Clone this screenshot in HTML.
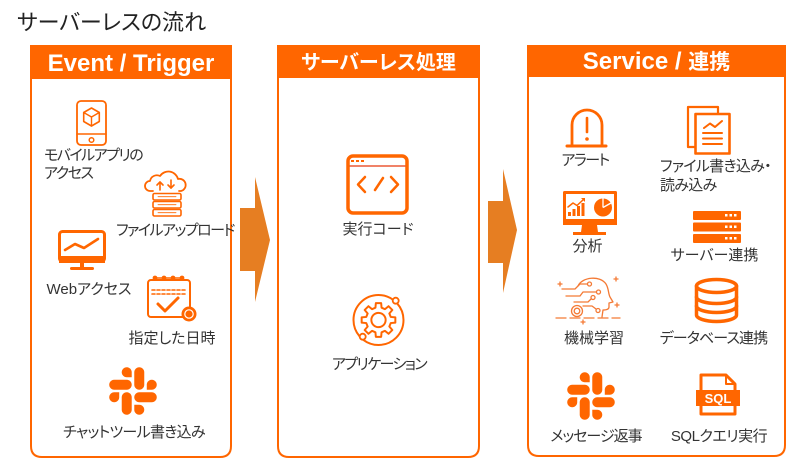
<!DOCTYPE html>
<html><head><meta charset="utf-8">
<style>
body{margin:0;width:800px;height:470px;background:#fff;position:relative;overflow:hidden;font-family:"Liberation Sans","Noto Sans CJK JP",sans-serif;}
svg{position:absolute;left:0;top:0}
.t{position:absolute;white-space:nowrap;font-size:15px;line-height:20px;color:#333;font-feature-settings:"palt" 1;}
.c{transform:translateX(-50%)}
.h{position:absolute;color:#fff;font-weight:bold;white-space:nowrap;transform:translateX(-50%);line-height:30px}
</style></head><body>
<svg width="800" height="470" viewBox="0 0 800 470" xmlns="http://www.w3.org/2000/svg">
  <!-- panels -->
  <g fill="none" stroke="#FF6600" stroke-width="2">
    <path d="M31,46 H231 V446 Q231,457 220,457 H42 Q31,457 31,446 Z"/>
    <path d="M278,46 H479 V446 Q479,457 468,457 H289 Q278,457 278,446 Z"/>
    <path d="M528,46 H785 V445 Q785,456 774,456 H539 Q528,456 528,445 Z"/>
  </g>
  <rect x="30" y="45" width="202" height="34" fill="#FF6600"/>
  <rect x="277" y="45" width="203" height="33" fill="#FF6600"/>
  <rect x="527" y="45" width="259" height="32" fill="#FF6600"/>

  <!-- big arrows -->
  <polygon points="240,208 255,208 255,177 270,240 255,302 255,271 240,271" fill="#E67E22"/>
  <polygon points="488,201 503,201 503,169 517,230 503,293 503,263 488,263" fill="#E67E22"/>

  <g fill="none" stroke="#FF6600" stroke-linecap="round" stroke-linejoin="round">
    <!-- phone -->
    <rect x="77" y="101" width="29" height="44" rx="4" stroke-width="1.8"/>
    <line x1="77" y1="134" x2="106" y2="134" stroke-width="1.6"/>
    <circle cx="91.5" cy="140" r="2.3" stroke-width="1.5"/>
    <polygon points="91.5,108 99.3,112.5 99.3,121.5 91.5,126 83.7,121.5 83.7,112.5" stroke-width="1.6"/>
    <polyline points="83.7,112.5 91.5,117 99.3,112.5" stroke-width="1.4"/>
    <line x1="91.5" y1="117" x2="91.5" y2="126" stroke-width="1.4"/>

    <!-- cloud upload -->
    <path d="M153,191 H150 A5,5 0 0 1 150,181 A7,7 0 0 1 160,176 A10,10 0 0 1 178,179 A6,6 0 0 1 181,191 H179" stroke-width="1.8"/>
    <line x1="160" y1="190" x2="160" y2="182" stroke-width="1.6"/>
    <polyline points="157,185 160,182 163,185" stroke-width="1.6"/>
    <line x1="171" y1="180" x2="171" y2="188" stroke-width="1.6"/>
    <polyline points="168,185 171,188 174,185" stroke-width="1.6"/>
    <rect x="153" y="193.5" width="28" height="6.5" rx="1.5" stroke-width="1.6"/>
    <rect x="153" y="201.5" width="28" height="6.5" rx="1.5" stroke-width="1.6"/>
    <rect x="153" y="209.5" width="28" height="6.5" rx="1.5" stroke-width="1.6"/>
    <line x1="158" y1="196.7" x2="176" y2="196.7" stroke-width="0.8"/>
    <line x1="158" y1="204.7" x2="176" y2="204.7" stroke-width="0.8"/>
    <line x1="158" y1="212.7" x2="176" y2="212.7" stroke-width="0.8"/>

    <!-- web monitor -->
    <rect x="59.5" y="231.5" width="45" height="30" rx="3" stroke-width="3"/>
    <polyline points="65,250 75,244 84,248 98,239" stroke-width="2.6"/>

    <!-- calendar -->
    <rect x="148" y="280" width="42" height="37" rx="3" stroke-width="2"/>
    <line x1="155" y1="278" x2="182" y2="278" stroke-width="1.5"/>
    <line x1="152" y1="290" x2="186" y2="290" stroke-width="1.6" stroke-dasharray="3,2"/>
    <line x1="152" y1="294" x2="186" y2="294" stroke-width="1.6" stroke-dasharray="3,2"/>
    <polyline points="158,304 165,311 178,298" stroke-width="3"/>

    <!-- code window -->
    <rect x="348" y="156" width="59" height="57" rx="5" stroke-width="3.5"/>
    <line x1="350" y1="166" x2="405" y2="166" stroke="#E8380D" stroke-width="1.2"/>
    <polyline points="365,177 358,184.5 365,192" stroke-width="2.5"/>
    <line x1="375" y1="190" x2="383" y2="178" stroke-width="2.5"/>
    <polyline points="391,177 398,184.5 391,192" stroke-width="2.5"/>

    <!-- gear / application -->
    <circle cx="378.5" cy="320" r="25" stroke-width="2" stroke-dasharray="55.4,5.2,72.9,5.2,18.3"/>
    <g transform="translate(378.5,320) scale(1.1)" stroke-width="1.8">
      <polygon points="11.16,-2.78 15.31,-2.42 15.31,2.42 11.16,2.78 9.86,5.92 12.54,9.11 9.11,12.54 5.92,9.86 2.78,11.16 2.42,15.31 -2.42,15.31 -2.78,11.16 -5.92,9.86 -9.11,12.54 -12.54,9.11 -9.86,5.92 -11.16,2.78 -15.31,2.42 -15.31,-2.42 -11.16,-2.78 -9.86,-5.92 -12.54,-9.11 -9.11,-12.54 -5.92,-9.86 -2.78,-11.16 -2.42,-15.31 2.42,-15.31 2.78,-11.16 5.92,-9.86 9.11,-12.54 12.54,-9.11 9.86,-5.92"/>
      <circle cx="0" cy="0" r="6.5"/>
    </g>
    <circle cx="395.7" cy="300.7" r="3" fill="#fff" stroke-width="1.8"/>
    <circle cx="362.7" cy="336.7" r="3" fill="#fff" stroke-width="1.8"/>

    <!-- alert -->
    <path d="M572,145 V125 A15,15 0 0 1 602,125 V145" stroke-width="2.8"/>
    <line x1="567" y1="146" x2="606" y2="146" stroke-width="3"/>
    <line x1="587" y1="118" x2="587" y2="132" stroke-width="2.6"/>

    <!-- files -->
    <rect x="688" y="107" width="30" height="40" stroke-width="2.2"/>
    <rect x="695.5" y="114" width="34" height="39.5" fill="#fff" stroke-width="2.6"/>
    <polyline points="704,128 710,123.5 715,127 722,121" stroke-width="2"/>
    <line x1="703" y1="133" x2="722" y2="133" stroke-width="2"/>
    <line x1="703" y1="138.5" x2="722" y2="138.5" stroke-width="2"/>
    <line x1="703" y1="144" x2="722" y2="144" stroke-width="2"/>

    <!-- analysis monitor -->
    <rect x="564.5" y="192.5" width="51" height="30" stroke-width="3"/>
    <polyline points="568,207 573,203 577,205.5 584,199" stroke-width="1.5"/>

    <!-- database -->
    <ellipse cx="716.5" cy="286" rx="20" ry="6.5" stroke-width="3.5"/>
    <path d="M696.5,286 V315 A20,6.5 0 0 0 736.5,315 V286" stroke-width="3.5"/>
    <path d="M696.5,297 A20,6.5 0 0 0 736.5,297" stroke-width="3.5"/>
    <path d="M696.5,306 A20,6.5 0 0 0 736.5,306" stroke-width="3.5"/>

    <!-- sql file -->
    <path d="M701,375 H726 L735,384 V414 H701 Z" stroke-width="3"/>
    <path d="M726,375 V384 H735" stroke-width="2"/>
  </g>

  <!-- filled details -->
  <g fill="#FF6600">
    <rect x="59" y="256" width="46" height="7"/>
    <rect x="80" y="262" width="4" height="6"/>
    <rect x="70" y="267" width="24" height="3" rx="1.5"/>
    <circle cx="155" cy="278" r="2.4"/><circle cx="164" cy="278" r="2.4"/><circle cx="173" cy="278" r="2.4"/><circle cx="182" cy="278" r="2.4"/>
    <circle cx="189" cy="314" r="7.5"/>
    <rect x="351" y="160" width="3" height="2"/><rect x="356" y="160" width="3" height="2"/><rect x="361" y="160" width="3" height="2"/>
    <circle cx="587" cy="139" r="1.8"/>
    <rect x="563" y="219" width="54" height="6"/>
    <polygon points="582,225 597,225 598,232 581,232"/>
    <rect x="573" y="232" width="33" height="3"/>
    <rect x="568" y="212" width="3" height="4"/><rect x="572.5" y="209" width="3" height="7"/><rect x="577" y="206" width="3" height="10"/><rect x="581.5" y="203" width="3" height="13"/>
    <polygon points="581,198 585,198 585,202"/>
    <circle cx="603" cy="207.5" r="9"/>
    <rect x="693" y="211" width="48" height="9" rx="1"/>
    <rect x="693" y="222.5" width="48" height="9" rx="1"/>
    <rect x="693" y="234" width="48" height="9" rx="1"/>
    <rect x="696" y="390" width="44" height="16"/>
  </g>
  <g fill="#fff">
    <circle cx="189" cy="314" r="4.2" fill="none" stroke="#fff" stroke-width="1.2"/>
    <line x1="603" y1="207.5" x2="603" y2="198" stroke="#fff" stroke-width="1.3"/>
    <line x1="603" y1="207.5" x2="611" y2="203" stroke="#fff" stroke-width="1.3"/>
    <rect x="725" y="214" width="2.5" height="2.5"/><rect x="729.5" y="214" width="2.5" height="2.5"/><rect x="734" y="214" width="2.5" height="2.5"/>
    <rect x="725" y="225.5" width="2.5" height="2.5"/><rect x="729.5" y="225.5" width="2.5" height="2.5"/><rect x="734" y="225.5" width="2.5" height="2.5"/>
    <rect x="725" y="237" width="2.5" height="2.5"/><rect x="729.5" y="237" width="2.5" height="2.5"/><rect x="734" y="237" width="2.5" height="2.5"/>
  </g>
  <text x="718" y="403" text-anchor="middle" font-family="Liberation Sans, sans-serif" font-weight="bold" font-size="13" fill="#fff">SQL</text>

  <!-- machine learning head -->
  <g fill="none" stroke="#F47A35" stroke-width="1.3" stroke-linecap="round" stroke-linejoin="round">
    <path d="M578,286 C582,277 600,275 606,284 C609,289 608,293 610,297 L613,302 L609,303 L609,307 C609,309 607,310 603,310 L602,317"/>
    <polyline points="562,289 575,289 580,284 587,284"/><circle cx="589.5" cy="284" r="2"/>
    <polyline points="566,296 580,296 583,292 596,292"/><circle cx="598.5" cy="292" r="2"/>
    <polyline points="574,302 588,302 591,299"/><circle cx="593" cy="297.5" r="2"/>
    <polyline points="583,306 592,306 596,309"/><circle cx="598" cy="310.5" r="2"/>
    <circle cx="577" cy="311" r="5.5"/><circle cx="577" cy="311" r="2.8"/>
    <line x1="556" y1="318" x2="620" y2="318" stroke-dasharray="10,4"/>
    <path d="M558,284 h4 M560,282 v4 M614,279 h4 M616,277 v4 M615,305 h4 M617,303 v4 M581,322 h4 M583,320 v4"/>
  </g>

  <!-- slack icons -->
  <g fill="#FF6600" transform="translate(109,367) scale(0.387)">
    <path d="M26.4 78.2c0 7.1-5.8 12.9-12.9 12.9S.6 85.3.6 78.2c0-7.1 5.8-12.9 12.9-12.9h12.9v12.9z"/>
    <path d="M32.9 78.2c0-7.1 5.8-12.9 12.9-12.9s12.9 5.8 12.9 12.9v32.3c0 7.1-5.8 12.9-12.9 12.9s-12.9-5.8-12.9-12.9V78.2z"/>
    <path d="M45.8 26.4c-7.1 0-12.9-5.8-12.9-12.9S38.7.6 45.8.6s12.9 5.8 12.9 12.9v12.9H45.8z"/>
    <path d="M45.8 32.9c7.1 0 12.9 5.8 12.9 12.9s-5.8 12.9-12.9 12.9H13.5C6.4 58.7.6 52.9.6 45.8s5.8-12.9 12.9-12.9h32.3z"/>
    <path d="M97.6 45.8c0-7.1 5.8-12.9 12.9-12.9 7.1 0 12.9 5.8 12.9 12.9s-5.8 12.9-12.9 12.9H97.6V45.8z"/>
    <path d="M91.1 45.8c0 7.1-5.8 12.9-12.9 12.9-7.1 0-12.9-5.8-12.9-12.9V13.5C65.3 6.4 71.1.6 78.2.6c7.1 0 12.9 5.8 12.9 12.9v32.3z"/>
    <path d="M78.2 97.6c7.1 0 12.9 5.8 12.9 12.9 0 7.1-5.8 12.9-12.9 12.9-7.1 0-12.9-5.8-12.9-12.9V97.6h12.9z"/>
    <path d="M78.2 91.1c-7.1 0-12.9-5.8-12.9-12.9 0-7.1 5.8-12.9 12.9-12.9h32.3c7.1 0 12.9 5.8 12.9 12.9 0 7.1-5.8 12.9-12.9 12.9H78.2z"/>
  </g>
  <g fill="#FF6600" transform="translate(567,372) scale(0.387)">
    <path d="M26.4 78.2c0 7.1-5.8 12.9-12.9 12.9S.6 85.3.6 78.2c0-7.1 5.8-12.9 12.9-12.9h12.9v12.9z"/>
    <path d="M32.9 78.2c0-7.1 5.8-12.9 12.9-12.9s12.9 5.8 12.9 12.9v32.3c0 7.1-5.8 12.9-12.9 12.9s-12.9-5.8-12.9-12.9V78.2z"/>
    <path d="M45.8 26.4c-7.1 0-12.9-5.8-12.9-12.9S38.7.6 45.8.6s12.9 5.8 12.9 12.9v12.9H45.8z"/>
    <path d="M45.8 32.9c7.1 0 12.9 5.8 12.9 12.9s-5.8 12.9-12.9 12.9H13.5C6.4 58.7.6 52.9.6 45.8s5.8-12.9 12.9-12.9h32.3z"/>
    <path d="M97.6 45.8c0-7.1 5.8-12.9 12.9-12.9 7.1 0 12.9 5.8 12.9 12.9s-5.8 12.9-12.9 12.9H97.6V45.8z"/>
    <path d="M91.1 45.8c0 7.1-5.8 12.9-12.9 12.9-7.1 0-12.9-5.8-12.9-12.9V13.5C65.3 6.4 71.1.6 78.2.6c7.1 0 12.9 5.8 12.9 12.9v32.3z"/>
    <path d="M78.2 97.6c7.1 0 12.9 5.8 12.9 12.9 0 7.1-5.8 12.9-12.9 12.9-7.1 0-12.9-5.8-12.9-12.9V97.6h12.9z"/>
    <path d="M78.2 91.1c-7.1 0-12.9-5.8-12.9-12.9 0-7.1 5.8-12.9 12.9-12.9h32.3c7.1 0 12.9 5.8 12.9 12.9 0 7.1-5.8 12.9-12.9 12.9H78.2z"/>
  </g>
</svg>

<!-- title -->
<div class="t" style="left:17px;top:9px;font-size:22px;line-height:28px;color:#222">サーバーレスの流れ</div>

<!-- headers -->
<div class="h" style="left:131px;top:48.5px;font-size:24px">Event / Trigger</div>
<div class="h" style="left:378.5px;top:47.5px;font-size:20px;font-feature-settings:'palt' 1">サーバーレス処理</div>
<div class="h" style="left:656.5px;top:47px;font-size:24px">Service / <span style="font-size:21px">連携</span></div>

<!-- labels panel 1 -->
<div class="t" style="left:44px;top:147px;line-height:18px;letter-spacing:-1.5px">モバイルアプリの<br>アクセス</div>
<div class="t c" style="left:175px;top:221px;letter-spacing:-1.5px">ファイルアップロード</div>
<div class="t c" style="left:89px;top:280px">Webアクセス</div>
<div class="t c" style="left:172px;top:329px">指定した日時</div>
<div class="t c" style="left:134px;top:423px;letter-spacing:-0.7px">チャットツール書き込み</div>

<!-- labels panel 2 -->
<div class="t c" style="left:378px;top:220px">実行コード</div>
<div class="t c" style="left:379px;top:355px;letter-spacing:-1.6px">アプリケーション</div>

<!-- labels panel 3 -->
<div class="t c" style="left:585px;top:151px;letter-spacing:-1.5px">アラート</div>
<div class="t" style="left:660px;top:157px;line-height:19px;letter-spacing:-0.7px">ファイル書き込み・<br>読み込み</div>
<div class="t c" style="left:587.5px;top:237px">分析</div>
<div class="t c" style="left:714.5px;top:246px">サーバー連携</div>
<div class="t c" style="left:594px;top:329px">機械学習</div>
<div class="t c" style="left:713.5px;top:329px;letter-spacing:-0.9px">データベース連携</div>
<div class="t c" style="left:596px;top:427px;letter-spacing:-1px">メッセージ返事</div>
<div class="t c" style="left:719px;top:427px;letter-spacing:-0.5px">SQLクエリ実行</div>
</body></html>
